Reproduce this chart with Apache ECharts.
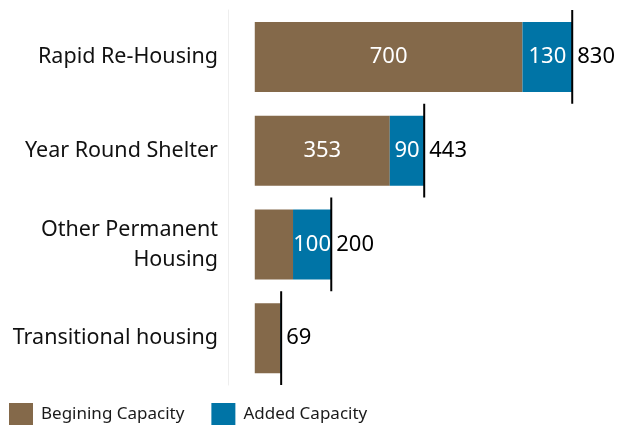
<!DOCTYPE html>
<html>
<head>
<meta charset="utf-8">
<script src="https://cdn.jsdelivr.net/npm/echarts@6/dist/echarts.min.js"></script>
<style>
  html, body { margin: 0; padding: 0; background: #fff; }
  #chart { width: 621px; height: 426px; }
</style>
</head>
<body>
<div id="chart"></div>
<script>
const categories = ['Rapid Re-Housing', 'Year Round Shelter', 'Other Permanent\nHousing', 'Transitional housing']
const beginning = [700, 353, 100, 67]
const added = [130, 90, 100, 4]
const totals = [830, 443, 200, 69]

const brown = '#84694a'
const blue = '#0074a6'
const font = 'Noto Sans'

const chart = echarts.init(document.getElementById('chart'))

// black end marker + total label
function renderTotal(params, api) {
  const pt = api.coord([api.value(0), api.value(1)])
  const band = api.size([0, 1])[1]
  return {
    type: 'group',
    children: [
      {
        type: 'line',
        shape: { x1: pt[0], y1: pt[1] - band / 2, x2: pt[0], y2: pt[1] + band / 2 },
        style: { stroke: '#000', lineWidth: 2 },
      },
      {
        type: 'text',
        x: pt[0] + 5,
        y: pt[1],
        style: {
          text: String(api.value(0)),
          fill: '#000',
          font: '22px "' + font + '"',
          verticalAlign: 'middle',
          align: 'left',
        },
      },
    ],
  }
}

chart.setOption({
  animation: false,
  textStyle: { fontFamily: font },
  grid: { left: 228, right: 22, top: 10, bottom: 41 },
  legend: {
    left: 4,
    top: 398,
    itemWidth: 24,
    itemHeight: 22,
    itemGap: 27,
    icon: 'rect',
    textStyle: { fontSize: 17, color: '#1a1a1a', fontFamily: font, padding: [0, 0, 0, 3] },
    data: ['Begining Capacity', 'Added Capacity'],
  },
  xAxis: {
    type: 'value',
    min: -70,
    max: 900,
    show: false,
  },
  yAxis: {
    type: 'category',
    inverse: true,
    data: categories,
    axisLine: { onZero: false, lineStyle: { color: '#eeeeee', width: 1 } },
    axisTick: { show: false },
    axisLabel: { fontSize: 21.5, color: '#111', margin: 10, lineHeight: 30, fontFamily: font },
  },
  series: [
    {
      name: 'Begining Capacity',
      type: 'bar',
      stack: 'cap',
      barWidth: 70,
      itemStyle: { color: brown },
      label: {
        show: true,
        position: 'inside',
        color: '#fff',
        fontSize: 22,
        fontFamily: font,
        formatter: p => (p.value >= 150 ? p.value : ''),
      },
      data: beginning,
    },
    {
      name: 'Added Capacity',
      type: 'bar',
      stack: 'cap',
      barWidth: 70,
      itemStyle: { color: blue },
      label: {
        show: true,
        position: 'inside',
        color: '#fff',
        fontSize: 22,
        fontFamily: font,
        formatter: p => (p.value >= 50 ? p.value : ''),
      },
      data: added,
    },
    {
      name: 'Total',
      type: 'custom',
      renderItem: renderTotal,
      encode: { x: 0, y: 1 },
      data: totals.map((v, i) => [v, i]),
      z: 5,
    },
  ],
})
</script>
</body>
</html>
